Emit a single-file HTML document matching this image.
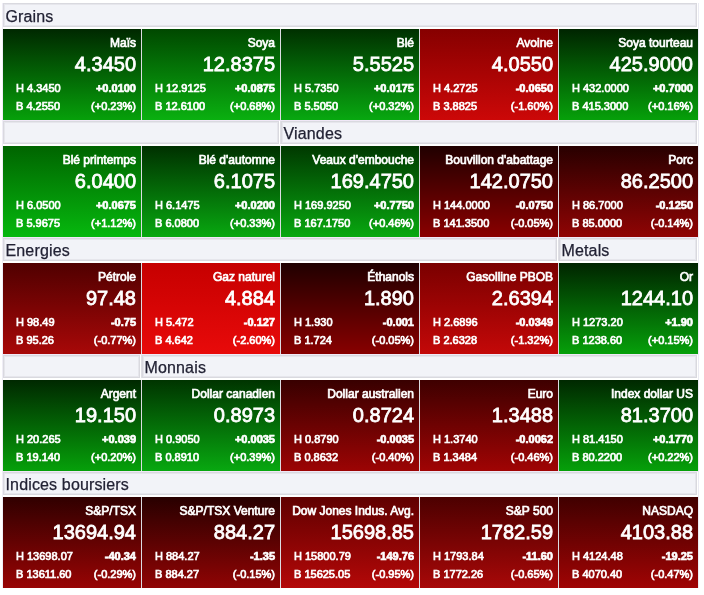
<!DOCTYPE html>
<html lang="fr"><head><meta charset="utf-8"><title>Marchés</title>
<style>
html,body{margin:0;padding:0;background:#fff;}
body{width:704px;height:595px;position:relative;overflow:hidden;font-family:"Liberation Sans",Helvetica,Arial,sans-serif;}
.fr{position:absolute;left:2px;top:3px;width:695px;height:585px;border-left:1px solid #efedf6;border-right:1px solid #ebebf3;}
.ln{position:absolute;left:3px;width:695px;height:1px;background:#f0e8f7;}
.g{position:absolute;left:3px;width:695px;height:91px;background:#dcdce2;}
.h{position:absolute;box-sizing:border-box;border:1px solid #d9d9df;box-shadow:inset 0 0 0 1px #e6e6ec;background:#f2f3f8;color:#222234;font-size:16px;line-height:20px;padding:0;letter-spacing:0.15px;white-space:nowrap;overflow:hidden;-webkit-text-stroke:0.25px #222234;}
.h span{position:absolute;}
.t{position:absolute;width:138px;height:91px;color:#fff;overflow:hidden;}
.t div{position:absolute;white-space:nowrap;-webkit-text-stroke:0.7px #fff;}
.n{right:5px;top:7px;font-size:12px;line-height:14px;}
.t .v{right:5px;top:22.5px;font-size:20px;line-height:24px;-webkit-text-stroke:0.8px #fff;}
.hi{left:13px;top:53px;font-size:11px;line-height:13px;}
.lo{left:13px;top:71px;font-size:11px;line-height:13px;}
.t .c{right:5px;top:53px;font-size:11px;line-height:13px;font-weight:bold;-webkit-text-stroke:0.7px #fff;}
.p{right:5px;top:71px;font-size:11px;line-height:13px;}
</style></head><body>
<div class="fr"></div>

<div class="g" style="top:29px"></div>
<div class="h" style="left:3px;top:3px;width:694px;height:24px"><span style="left:1.5px;top:3px">Grains</span></div>
<div class="t" style="left:3px;top:29px;width:138px;background:linear-gradient(to bottom,#002800,#06a00a)"><div class="n">Maïs</div><div class="v">4.3450</div><div class="hi">H 4.3450</div><div class="c">+0.0100</div><div class="lo">B 4.2550</div><div class="p">(+0.23%)</div></div>
<div class="t" style="left:142px;top:29px;width:138px;background:linear-gradient(to bottom,#004800,#0ab010)"><div class="n">Soya</div><div class="v">12.8375</div><div class="hi">H 12.9125</div><div class="c">+0.0875</div><div class="lo">B 12.6100</div><div class="p">(+0.68%)</div></div>
<div class="t" style="left:281px;top:29px;width:138px;background:linear-gradient(to bottom,#003000,#08a810)"><div class="n">Blé</div><div class="v">5.5525</div><div class="hi">H 5.7350</div><div class="c">+0.0175</div><div class="lo">B 5.5050</div><div class="p">(+0.32%)</div></div>
<div class="t" style="left:420px;top:29px;width:138px;background:linear-gradient(to bottom,#860000,#cc0808)"><div class="n">Avoine</div><div class="v">4.0550</div><div class="hi">H 4.2725</div><div class="c">-0.0650</div><div class="lo">B 3.8825</div><div class="p">(-1.60%)</div></div>
<div class="t" style="left:559px;top:29px;width:139px;background:linear-gradient(to bottom,#002400,#06a00a)"><div class="n">Soya tourteau</div><div class="v">425.9000</div><div class="hi">H 432.0000</div><div class="c">+0.7000</div><div class="lo">B 415.3000</div><div class="p">(+0.16%)</div></div>
<div class="ln" style="top:120px"></div>
<div class="g" style="top:146px"></div>
<div style="position:absolute;left:280px;top:121px;width:1px;height:23px;background:#dfdfe5"></div>
<div class="h" style="left:3px;top:121px;width:276px;height:23px"><span style="left:1.5px;top:2px"></span></div>
<div class="h" style="left:281px;top:121px;width:416px;height:23px"><span style="left:1.5px;top:2px">Viandes</span></div>
<div class="t" style="left:3px;top:146px;width:138px;background:linear-gradient(to bottom,#006400,#06b80e)"><div class="n">Blé printemps</div><div class="v">6.0400</div><div class="hi">H 6.0500</div><div class="c">+0.0675</div><div class="lo">B 5.9675</div><div class="p">(+1.12%)</div></div>
<div class="t" style="left:142px;top:146px;width:138px;background:linear-gradient(to bottom,#003000,#08a810)"><div class="n">Blé d'automne</div><div class="v">6.1075</div><div class="hi">H 6.1475</div><div class="c">+0.0200</div><div class="lo">B 6.0800</div><div class="p">(+0.33%)</div></div>
<div class="t" style="left:281px;top:146px;width:138px;background:linear-gradient(to bottom,#003800,#08a810)"><div class="n">Veaux d'embouche</div><div class="v">169.4750</div><div class="hi">H 169.9250</div><div class="c">+0.7750</div><div class="lo">B 167.1750</div><div class="p">(+0.46%)</div></div>
<div class="t" style="left:420px;top:146px;width:138px;background:linear-gradient(to bottom,#200000,#8a0000)"><div class="n">Bouvillon d'abattage</div><div class="v">142.0750</div><div class="hi">H 144.0000</div><div class="c">-0.0750</div><div class="lo">B 141.3500</div><div class="p">(-0.05%)</div></div>
<div class="t" style="left:559px;top:146px;width:139px;background:linear-gradient(to bottom,#280000,#900404)"><div class="n">Porc</div><div class="v">86.2500</div><div class="hi">H 86.7000</div><div class="c">-0.1250</div><div class="lo">B 85.0000</div><div class="p">(-0.14%)</div></div>
<div class="ln" style="top:237px"></div>
<div class="g" style="top:263px"></div>
<div style="position:absolute;left:558px;top:238px;width:1px;height:23px;background:#dfdfe5"></div>
<div class="h" style="left:3px;top:238px;width:554px;height:23px"><span style="left:1.5px;top:2px">Energies</span></div>
<div class="h" style="left:559px;top:238px;width:138px;height:23px"><span style="left:1.5px;top:2px">Metals</span></div>
<div class="t" style="left:3px;top:263px;width:138px;background:linear-gradient(to bottom,#500000,#a80808)"><div class="n">Pétrole</div><div class="v">97.48</div><div class="hi">H 98.49</div><div class="c">-0.75</div><div class="lo">B 95.26</div><div class="p">(-0.77%)</div></div>
<div class="t" style="left:142px;top:263px;width:138px;background:linear-gradient(to bottom,#c60000,#e80a0a)"><div class="n">Gaz naturel</div><div class="v">4.884</div><div class="hi">H 5.472</div><div class="c">-0.127</div><div class="lo">B 4.642</div><div class="p">(-2.60%)</div></div>
<div class="t" style="left:281px;top:263px;width:138px;background:linear-gradient(to bottom,#200000,#880000)"><div class="n">Éthanols</div><div class="v">1.890</div><div class="hi">H 1.930</div><div class="c">-0.001</div><div class="lo">B 1.724</div><div class="p">(-0.05%)</div></div>
<div class="t" style="left:420px;top:263px;width:138px;background:linear-gradient(to bottom,#7a0000,#c40808)"><div class="n">Gasolline PBOB</div><div class="v">2.6394</div><div class="hi">H 2.6896</div><div class="c">-0.0349</div><div class="lo">B 2.6328</div><div class="p">(-1.32%)</div></div>
<div class="t" style="left:559px;top:263px;width:139px;background:linear-gradient(to bottom,#002400,#06a00a)"><div class="n">Or</div><div class="v">1244.10</div><div class="hi">H 1273.20</div><div class="c">+1.90</div><div class="lo">B 1238.60</div><div class="p">(+0.15%)</div></div>
<div class="ln" style="top:354px"></div>
<div class="g" style="top:380px"></div>
<div style="position:absolute;left:141px;top:355px;width:1px;height:23px;background:#dfdfe5"></div>
<div class="h" style="left:3px;top:355px;width:137px;height:23px"><span style="left:1.5px;top:2px"></span></div>
<div class="h" style="left:142px;top:355px;width:555px;height:23px"><span style="left:1.5px;top:2px">Monnais</span></div>
<div class="t" style="left:3px;top:380px;width:138px;background:linear-gradient(to bottom,#002800,#06a00a)"><div class="n">Argent</div><div class="v">19.150</div><div class="hi">H 20.265</div><div class="c">+0.039</div><div class="lo">B 19.140</div><div class="p">(+0.20%)</div></div>
<div class="t" style="left:142px;top:380px;width:138px;background:linear-gradient(to bottom,#003400,#08a810)"><div class="n">Dollar canadien</div><div class="v">0.8973</div><div class="hi">H 0.9050</div><div class="c">+0.0035</div><div class="lo">B 0.8910</div><div class="p">(+0.39%)</div></div>
<div class="t" style="left:281px;top:380px;width:138px;background:linear-gradient(to bottom,#380000,#9c0404)"><div class="n">Dollar australien</div><div class="v">0.8724</div><div class="hi">H 0.8790</div><div class="c">-0.0035</div><div class="lo">B 0.8632</div><div class="p">(-0.40%)</div></div>
<div class="t" style="left:420px;top:380px;width:138px;background:linear-gradient(to bottom,#3e0000,#a00404)"><div class="n">Euro</div><div class="v">1.3488</div><div class="hi">H 1.3740</div><div class="c">-0.0062</div><div class="lo">B 1.3484</div><div class="p">(-0.46%)</div></div>
<div class="t" style="left:559px;top:380px;width:139px;background:linear-gradient(to bottom,#002800,#06a00a)"><div class="n">Index dollar US</div><div class="v">81.3700</div><div class="hi">H 81.4150</div><div class="c">+0.1770</div><div class="lo">B 80.2200</div><div class="p">(+0.22%)</div></div>
<div class="ln" style="top:471px"></div>
<div class="g" style="top:497px"></div>
<div class="h" style="left:3px;top:472px;width:694px;height:23px"><span style="left:1.5px;top:2px">Indices boursiers</span></div>
<div class="t" style="left:3px;top:497px;width:138px;background:linear-gradient(to bottom,#300000,#980404)"><div class="n">S&amp;P/TSX</div><div class="v">13694.94</div><div class="hi">H 13698.07</div><div class="c">-40.34</div><div class="lo">B 13611.60</div><div class="p">(-0.29%)</div></div>
<div class="t" style="left:142px;top:497px;width:138px;background:linear-gradient(to bottom,#280000,#900404)"><div class="n">S&amp;P/TSX Venture</div><div class="v">884.27</div><div class="hi">H 884.27</div><div class="c">-1.35</div><div class="lo">B 884.27</div><div class="p">(-0.15%)</div></div>
<div class="t" style="left:281px;top:497px;width:138px;background:linear-gradient(to bottom,#600000,#b40808)"><div class="n">Dow Jones Indus. Avg.</div><div class="v">15698.85</div><div class="hi">H 15800.79</div><div class="c">-149.76</div><div class="lo">B 15625.05</div><div class="p">(-0.95%)</div></div>
<div class="t" style="left:420px;top:497px;width:138px;background:linear-gradient(to bottom,#4c0000,#a80808)"><div class="n">S&amp;P 500</div><div class="v">1782.59</div><div class="hi">H 1793.84</div><div class="c">-11.60</div><div class="lo">B 1772.26</div><div class="p">(-0.65%)</div></div>
<div class="t" style="left:559px;top:497px;width:139px;background:linear-gradient(to bottom,#400000,#a00404)"><div class="n">NASDAQ</div><div class="v">4103.88</div><div class="hi">H 4124.48</div><div class="c">-19.25</div><div class="lo">B 4070.40</div><div class="p">(-0.47%)</div></div>
</body></html>
